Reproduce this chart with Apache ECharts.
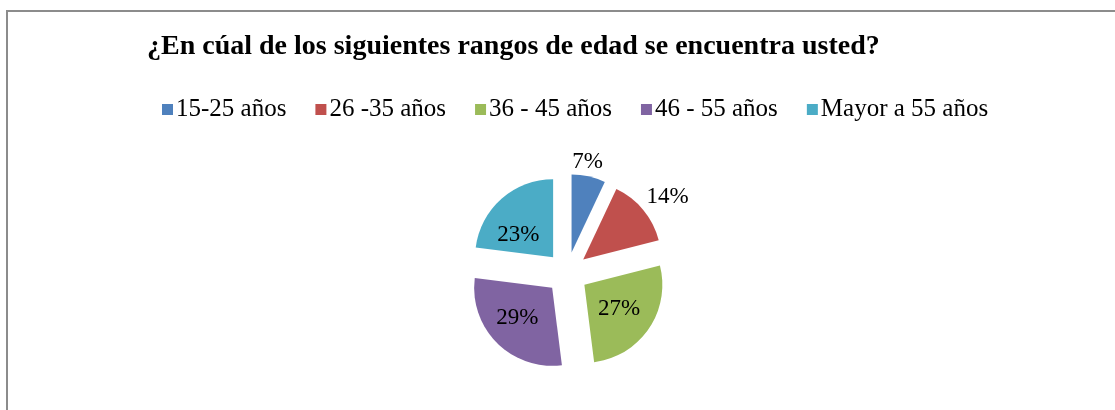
<!DOCTYPE html>
<html style="height: 100%">
<head>
    <meta charset="utf-8">
    <script src="https://cdn.jsdelivr.net/npm/echarts@6/dist/echarts.min.js"></script>
</head>
<body style="height: 100%;margin: 0;background: #fff">
<div id="chart1" style="width: 1115px;height: 410px;"></div>
<script type="text/javascript">
// datos de la grafica
var titulo = '¿En cúal de los siguientes rangos de edad se encuentra usted?';
var categorias = ['15-25 años', '26 -35 años', '36 - 45 años', '46 - 55 años', 'Mayor a 55 años'];
var porcentajes = [7, 14, 27, 29, 23];
var colores = ['#4F81BD', '#C0504D', '#9BBB59', '#8064A2', '#4BACC6'];
var etiquetaFuera = [true, true, false, false, false];

var fuente = '"Liberation Serif", "Times New Roman", serif';
var dom = document.getElementById("chart1");
var myChart = echarts.init(dom);

// ajuste fino de las etiquetas (como las coloca Excel), por indice
var ajusteX = [-24, -11, 0, -5, -7];
var ajusteY = [-3, -5, 1, 0, 9];

var datos = categorias.map(function (nombre, i) {
    return {
        value: porcentajes[i],
        name: nombre,
        selected: true,
        itemStyle: {color: colores[i]},
        label: {position: etiquetaFuera[i] ? 'outside' : 'inside'}
    };
});

var option = {
    animation: false,
    graphic: [{
        type: 'rect',
        silent: true,
        shape: {x: 7, y: 11, width: 1200, height: 500},
        style: {fill: 'none', stroke: '#8c8c8c', lineWidth: 2}
    }],
    title: {
        text: titulo,
        left: 142,
        top: 28,
        textStyle: {fontFamily: fuente, fontSize: 28, fontWeight: 'bold', color: '#000'}
    },
    legend: {
        left: 157,
        top: 92,
        icon: 'rect',
        itemWidth: 11,
        itemHeight: 11,
        itemGap: 29,
        selectedMode: false,
        data: categorias,
        textStyle: {fontFamily: fuente, fontSize: 25, color: '#000', padding: [0, 0, 0, -2]}
    },
    series: [{
        type: 'pie',
        center: [567, 273],
        radius: 78,
        startAngle: 90,
        clockwise: true,
        selectedMode: 'multiple',
        selectedOffset: 21,
        label: {
            show: true,
            formatter: '{c}%',
            fontFamily: fuente,
            fontSize: 23,
            color: '#000'
        },
        labelLine: {show: false, length: 12, length2: 0},
        labelLayout: function (params) {
            return {dx: ajusteX[params.dataIndex], dy: ajusteY[params.dataIndex]};
        },
        emphasis: {disabled: true},
        data: datos
    }]
};
myChart.setOption(option);
</script>
</body>
</html>
